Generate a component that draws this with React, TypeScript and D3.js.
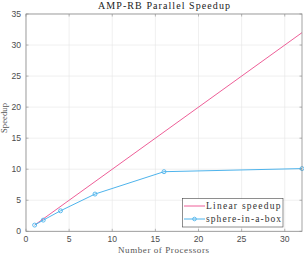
import * as d3 from "d3";

const processors = [1, 2, 4, 8, 16, 32];
const sphereSpeedup = [1, 1.8, 3.3, 6.0, 9.6, 10.1];
const linearX = [1, 32];
const xTicks = [0, 5, 10, 15, 20, 25, 30];
const yTicks = [0, 5, 10, 15, 20, 25, 30, 35];

const W = 304;
const H = 256;
const margin = { left: 26, right: 2, top: 14, bottom: 24.7 };

const pink = "#ee5f98";
const blue = "#4fb4ec";
const serif = "'Liberation Serif', 'DejaVu Serif', serif";
const sans = "'Liberation Sans', Arial, sans-serif";

export default function App() {
  const x = d3.scaleLinear().domain([0, 32]).range([margin.left, W - margin.right]);
  const y = d3.scaleLinear().domain([0, 35]).range([H - margin.bottom, margin.top]);

  const line = d3
    .line<[number, number]>()
    .x((d) => x(d[0]))
    .y((d) => y(d[1]));

  const linearPts: [number, number][] = linearX.map((v) => [v, v]);
  const spherePts: [number, number][] = processors.map((p, i) => [p, sphereSpeedup[i]]);

  const [x0, x1] = x.range();
  const [yb, yt] = y.range();

  // legend placement
  const lx = 182.5, ly = 198.5, lw = 100.5, lh = 28.5;

  return (
    <svg width={W} height={H} style={{ position: "absolute", left: 0, top: 0, background: "white" }}>
      {/* grid */}
      {xTicks.map((t) => (
        <line key={`gx${t}`} x1={x(t)} x2={x(t)} y1={yt} y2={yb} stroke="#e6e6e6" strokeWidth={0.6} />
      ))}
      {yTicks.map((t) => (
        <line key={`gy${t}`} x1={x0} x2={x1} y1={y(t)} y2={y(t)} stroke="#e6e6e6" strokeWidth={0.6} />
      ))}

      {/* data */}
      <path d={line(linearPts) ?? ""} fill="none" stroke={pink} strokeWidth={1} />
      <path d={line(spherePts) ?? ""} fill="none" stroke={blue} strokeWidth={1} />
      {spherePts.map((d, i) => (
        <circle key={i} cx={x(d[0])} cy={y(d[1])} r={2} fill="none" stroke={blue} strokeWidth={0.9} />
      ))}

      {/* axes box */}
      <rect x={x0} y={yt} width={x1 - x0} height={yb - yt} fill="none" stroke="#8c8c8c" strokeWidth={0.8} />
      {xTicks.map((t) => (
        <g key={`tx${t}`}>
          <line x1={x(t)} x2={x(t)} y1={yb} y2={yb - 2.5} stroke="#8c8c8c" strokeWidth={0.6} />
          <line x1={x(t)} x2={x(t)} y1={yt} y2={yt + 2.5} stroke="#8c8c8c" strokeWidth={0.6} />
          <text x={x(t)} y={yb + 11} textAnchor="middle" fontFamily={sans} fontSize={8.6} fill="#4d4d4d">
            {t}
          </text>
        </g>
      ))}
      {yTicks.map((t) => (
        <g key={`ty${t}`}>
          <line x1={x0} x2={x0 + 2.5} y1={y(t)} y2={y(t)} stroke="#8c8c8c" strokeWidth={0.6} />
          <line x1={x1} x2={x1 - 2.5} y1={y(t)} y2={y(t)} stroke="#8c8c8c" strokeWidth={0.6} />
          <text x={x0 - 5} y={y(t) + 3} textAnchor="end" fontFamily={sans} fontSize={8.6} fill="#4d4d4d">
            {t}
          </text>
        </g>
      ))}

      {/* titles */}
      <text x={164} y={8.5} textAnchor="middle" fontFamily={serif} fontSize={10} textLength={132}
        lengthAdjust="spacing" fill="#222">
        AMP-RB Parallel Speedup
      </text>
      <text x={163.5} y={253} textAnchor="middle" fontFamily={serif} fontSize={9} textLength={91}
        lengthAdjust="spacing" fill="#555">
        Number of Processors
      </text>
      <text
        transform={`translate(7, 118) rotate(-90)`}
        textAnchor="middle"
        fontFamily={serif}
        fontSize={8.5}
        textLength={30}
        lengthAdjust="spacing"
        fill="#555"
      >
        Speedup
      </text>

      {/* legend */}
      <rect x={lx} y={ly} width={lw} height={lh} fill="white" stroke="#444" strokeWidth={0.6} />
      <line x1={lx + 1.5} x2={lx + 22.5} y1={ly + 7.5} y2={ly + 7.5} stroke={pink} strokeWidth={1} />
      <text x={lx + 23.5} y={ly + 10.8} fontFamily={serif} fontSize={9.5} textLength={74.5}
        lengthAdjust="spacing" fill="#333">
        Linear speedup
      </text>
      <line x1={lx + 1.5} x2={lx + 22.5} y1={ly + 20.5} y2={ly + 20.5} stroke={blue} strokeWidth={1} />
      <circle cx={lx + 12} cy={ly + 20.5} r={1.8} fill="none" stroke={blue} strokeWidth={0.9} />
      <text x={lx + 23.5} y={ly + 23.5} fontFamily={serif} fontSize={9.5} textLength={75}
        lengthAdjust="spacing" fill="#333">
        sphere-in-a-box
      </text>
    </svg>
  );
}
